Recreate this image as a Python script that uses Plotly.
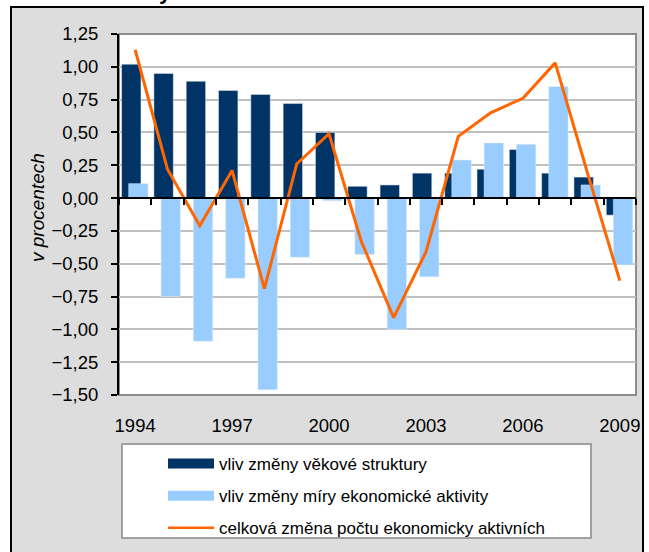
import plotly.graph_objects as go

years = [str(y) for y in range(1994, 2010)]
age_structure = [1.02, 0.95, 0.89, 0.82, 0.79, 0.72, 0.50, 0.09, 0.10, 0.19, 0.19, 0.22, 0.37, 0.19, 0.16, -0.13]
activity_rate = [0.11, -0.75, -1.09, -0.61, -1.46, -0.45, -0.02, -0.43, -1.00, -0.60, 0.29, 0.42, 0.41, 0.85, 0.10, -0.51]
total_change = [1.13, 0.22, -0.21, 0.21, -0.69, 0.26, 0.49, -0.33, -0.91, -0.41, 0.47, 0.65, 0.76, 1.03, 0.19, -0.63]
x_tick_labels = ["1994", "1997", "2000", "2003", "2006", "2009"]

names = ["vliv změny věkové struktury",
         "vliv změny míry ekonomické aktivity",
         "celková změna počtu ekonomicky aktivních"]
DARK = "#003366"
LIGHT = "#99CCFF"
ORANGE = "#FF6600"
FONT = "Liberation Sans, Arial, sans-serif"

fig = go.Figure()
fig.add_trace(go.Bar(x=years, y=age_structure, marker_color=DARK, width=0.6, offset=-0.42,
                     showlegend=False, name=names[0]))
fig.add_trace(go.Bar(x=years, y=activity_rate, marker_color=LIGHT, width=0.6, offset=-0.2,
                     showlegend=False, name=names[1]))
fig.add_trace(go.Scatter(x=years, y=total_change, mode="lines", line=dict(color=ORANGE, width=3),
                         xaxis="x2", yaxis="y", showlegend=False, name=names[2]))

# legend entries
fig.add_trace(go.Scatter(x=[None], y=[None], mode="lines", line=dict(color=DARK, width=10),
                         name=names[0], legendgroup="a"))
fig.add_trace(go.Scatter(x=[None], y=[None], mode="lines", line=dict(color=LIGHT, width=10),
                         name=names[1], legendgroup="b"))
fig.add_trace(go.Scatter(x=[None], y=[None], mode="lines", line=dict(color=ORANGE, width=2.5),
                         name=names[2], legendgroup="c"))

L, R, T, B = 119, 13, 34, 157
W, H = 649, 552
pw, ph = W - L - R, H - T - B

def px_x(p):
    return (p - L) / pw

def px_y(p):
    return (H - B - p) / ph

shapes = [
    dict(type="rect", xref="paper", yref="paper", x0=px_x(11), x1=px_x(643), y0=px_y(570), y1=px_y(7),
         fillcolor="#DDDDDD", line=dict(color="black", width=2), layer="below"),
    dict(type="rect", xref="paper", yref="paper", x0=0, x1=1, y0=0, y1=1,
         fillcolor="white", line=dict(color="#8C8C8C", width=2), layer="below"),
    dict(type="rect", xref="paper", yref="paper", x0=px_x(122), x1=px_x(591), y0=px_y(538), y1=px_y(444),
         fillcolor="white", line=dict(color="#A0A0A0", width=2), layer="below"),
]

fig.update_layout(
    width=W, height=H,
    margin=dict(l=L, r=R, t=T, b=B, autoexpand=False),
    paper_bgcolor="white",
    plot_bgcolor="rgba(0,0,0,0)",
    barmode="overlay",
    separators=", ",
    font=dict(family=FONT, size=18, color="black"),
    shapes=shapes,
    xaxis=dict(type="category", categoryorder="array", categoryarray=years, range=[-0.5, 15.5],
               tickmode="array", tickvals=x_tick_labels, ticktext=x_tick_labels,
               ticks="", showgrid=False, showline=False, zeroline=False, automargin=False,
               ticklabelstandoff=17, tickfont=dict(size=18.5)),
    xaxis2=dict(type="category", categoryorder="array", categoryarray=years, range=[-0.5, 15.5],
                overlaying="x", anchor="free", position=1.5 / 2.75,
                tickmode="linear", tick0=0, dtick=1, tickson="boundaries",
                ticks="outside", ticklen=6, tickwidth=2, tickcolor="black",
                showticklabels=False, showgrid=False, zeroline=False, automargin=False,
                showline=True, linecolor="black", linewidth=2),
    yaxis=dict(range=[-1.5, 1.25], tickmode="linear", tick0=-1.5, dtick=0.25, tickformat=".2f",
               showgrid=True, gridcolor="#C0C0C0", gridwidth=1.5, zeroline=False, automargin=False,
               showline=True, linecolor="black", linewidth=2,
               ticks="outside", ticklen=6, tickwidth=2, tickcolor="black",
               tickfont=dict(size=18.5), ticklabelstandoff=9),
    legend=dict(xref="container", yref="container", x=163 / W, y=1 - 446 / H,
                xanchor="left", yanchor="top",
                bgcolor="rgba(0,0,0,0)", borderwidth=0, tracegroupgap=7,
                traceorder="grouped", font=dict(size=17), itemwidth=46),
    annotations=[
        dict(text="<b>y</b>", xref="paper", yref="paper", x=px_x(165), y=px_y(6),
             xanchor="center", yanchor="bottom", showarrow=False,
             font=dict(size=22, color="black")),
        dict(text="<i>v procentech</i>", xref="paper", yref="paper", x=px_x(38), y=px_y(208),
             xanchor="center", yanchor="middle", textangle=-90, showarrow=False,
             font=dict(size=19, color="black")),
    ],
)

fig.write_html("out.html", config={"displayModeBar": False},
               post_script="document.body.style.margin='0';document.body.style.overflow='hidden';")
